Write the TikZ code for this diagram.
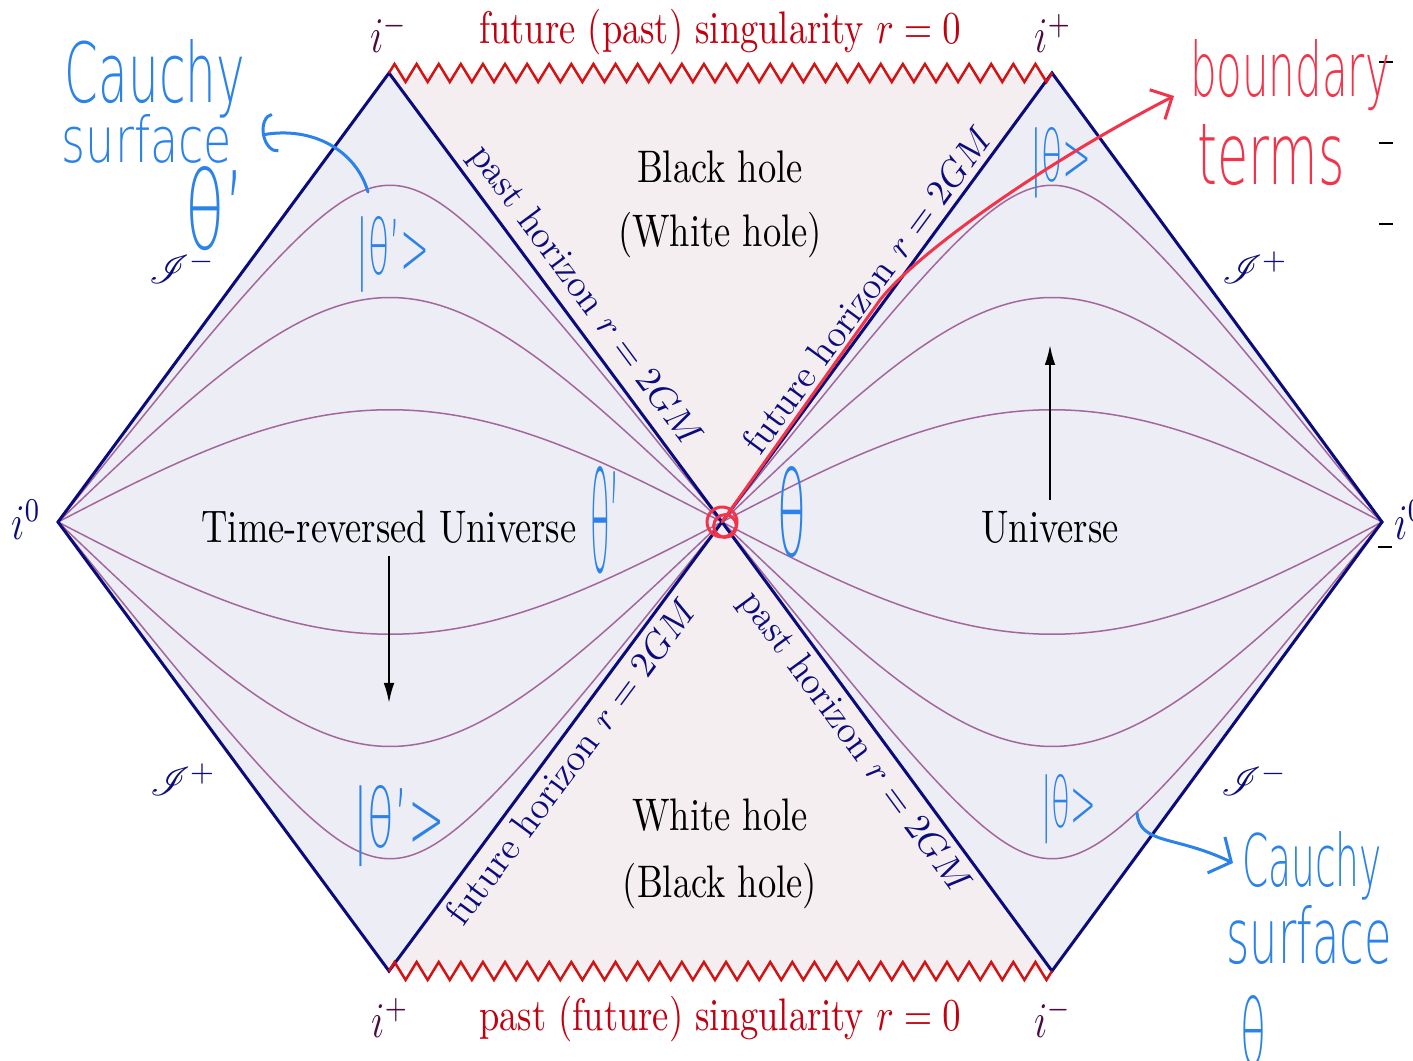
\documentclass[tikz,border=0pt]{standalone}
\usepackage{fontspec}
\usepackage{mathrsfs}
\usepackage{graphicx}
\usetikzlibrary{decorations.pathmorphing,arrows.meta}
\IfFontExistsTF{DejaVuSans-ExtraLight.ttf}{\newfontfamily\handfont{DejaVuSans-ExtraLight.ttf}}{%
  \IfFontExistsTF{FiraSans-Light.otf}{\newfontfamily\handfont{FiraSans-Light.otf}}{\newfontfamily\handfont{Fira Sans}}}
\definecolor{navy}{HTML}{0B0B7C}
\definecolor{diafill}{HTML}{EDEDF6}
\definecolor{bhfill}{HTML}{F5EEF1}
\definecolor{curvecol}{HTML}{A4679C}
\definecolor{singcol}{HTML}{D21414}
\definecolor{singtext}{HTML}{C2000F}
\definecolor{icol}{HTML}{4A0B3E}
\definecolor{handblue}{HTML}{2B82E8}
\definecolor{handred}{HTML}{F2344A}
\newdimen\pxu \pxu=0.3pt
\newcommand\tx[1]{\scalebox{1}[1.25]{#1}}
\newcommand\hw[3]{\resizebox{#1\pxu}{#2\pxu}{\handfont #3}}
\newcommand\pcurve[3]{\draw[curveline] plot[domain=0.01:179.99,samples=100,variable=\t]
 ({722+(#1)/90*atan2(#2*sin(\t),cos(\t))/2},{522-449/45*atan((#3)*sin(\t))/2});}
\begin{document}
\begin{tikzpicture}[x=0.3pt,y=-0.3pt,
  lbl/.style={font=\fontsize{10.95}{13}\selectfont},
  ilbl/.style={font=\fontsize{12}{14}\selectfont,text=icol,anchor=base},
  scri/.style={font=\fontsize{13}{15}\selectfont,text=navy,anchor=base},
  dia/.style={draw=navy,line width=0.9pt,line join=miter},
  curveline/.style={draw=curvecol,line width=0.45pt},
  sing/.style={draw=singcol,line width=0.75pt,decorate,decoration={zigzag,segment length=6.63pt,amplitude=2.7pt}},
  hor/.style={font=\fontsize{11.4}{13}\selectfont,text=navy,sloped,inner sep=2pt},
  evo/.style={draw=black,line width=0.6pt,-{Latex[length=6pt,width=3.2pt]}},
  hb/.style={text=handblue,inner sep=0pt,anchor=base},
  hr/.style={text=handred,inner sep=0pt,anchor=base},
  hbline/.style={draw=handblue,line width=0.9pt,line cap=round,line join=round},
  hrline/.style={draw=handred,line width=0.9pt,line cap=round,line join=round},
  tick/.style={draw=black,line width=0.6pt}
]
\useasboundingbox (0,0) rectangle (1413,1061);
\coordinate (L0) at (58,522);
\coordinate (A) at (389,73);
\coordinate (B) at (389,971);
\coordinate (C) at (722,522);
\coordinate (D) at (1052,73);
\coordinate (E) at (1052,971);
\coordinate (R0) at (1382,522);

% fills
\fill[bhfill] (A) -- (D) -- (C) -- cycle;
\fill[bhfill] (B) -- (E) -- (C) -- cycle;
\fill[diafill] (L0) -- (A) -- (C) -- (B) -- cycle;
\fill[diafill] (C) -- (D) -- (R0) -- (E) -- cycle;

% constant-time slices
\pcurve{660}{1.08239}{0.41421}
\pcurve{660}{1.41421}{1}
\pcurve{660}{2.61313}{2.41421}
\pcurve{660}{1.08239}{-0.41421}
\pcurve{660}{1.41421}{-1}
\pcurve{660}{2.61313}{-2.41421}
\pcurve{-664}{1.08239}{0.41421}
\pcurve{-664}{1.41421}{1}
\pcurve{-664}{2.61313}{2.41421}
\pcurve{-664}{1.08239}{-0.41421}
\pcurve{-664}{1.41421}{-1}
\pcurve{-664}{2.61313}{-2.41421}

% outlines
\draw[dia] (L0) -- (A) -- (C) -- (B) -- cycle;
\draw[dia] (C) -- (D) -- (R0) -- (E) -- cycle;
\draw[sing] (A) -- (D);
\draw[sing] (E) -- (B);

% horizon labels
\path (A) -- node[hor,above,pos=0.53]{past horizon $r=2GM$} (C);
\path (C) -- node[hor,above,pos=0.49]{future horizon $r=2GM$} (D);
\path (B) -- node[hor,below,pos=0.495]{future horizon $r=2GM$} (C);
\path (C) -- node[hor,below,pos=0.46]{past horizon $r=2GM$} (E);

% singularity labels
\node[lbl,text=singtext,anchor=base] (fs) at (720,44) {\tx{future (past) singularity $r=0$}};
\node[lbl,text=singtext,anchor=base] (ps) at (720,1030) {\tx{past (future) singularity $r=0$}};

% region labels
\node[lbl,anchor=base] (bh1) at (720,183) {\tx{Black hole}};
\node[lbl,anchor=base] (bh2) at (720,247) {\tx{(White hole)}};
\node[lbl,anchor=base] (wh1) at (720,831) {\tx{White hole}};
\node[lbl,anchor=base] (wh2) at (720,897) {\tx{(Black hole)}};
\node[lbl,anchor=base] (tru) at (389,543) {\tx{Time-reversed Universe}};
\node[lbl,anchor=base] (uni) at (1050,543) {\tx{Universe}};
\coordinate (truend) at (389,703);
\coordinate (uniend) at (1050,345);
\draw[evo] (tru.south) -- (truend);
\draw[evo] (uni.north) -- (uniend);

% infinity labels
\node[ilbl] (im1) at (389,53) {\tx{$i^-$}};
\node[ilbl] (ip1) at (1053,53) {\tx{$i^+$}};
\node[ilbl] (ip2) at (390,1037) {\tx{$i^+$}};
\node[ilbl] (im2) at (1053,1037) {\tx{$i^-$}};
\node[ilbl,text=navy] (i0l) at (26,540) {\tx{$i^0$}};
\node[ilbl,text=navy] (i0r) at (1409,540) {\tx{$i^0$}};
\node[scri] (s1) at (182,284) {$\mathscr{I}^-$};
\node[scri] (s2) at (183,796) {$\mathscr{I}^+$};
\node[scri] (s3) at (1255,284) {$\mathscr{I}^+$};
\node[scri] (s4) at (1254,796) {$\mathscr{I}^-$};

% stray ticks at the right edge
\draw[tick] (1379,62) -- (1393,62);
\draw[tick] (1379,143) -- (1393,143);
\draw[tick] (1379,224) -- (1393,224);
\draw[tick] (1378,547) -- (1392,547);

% handwritten annotations (width, height above baseline in px)
\node[hb] (cauchy1) at (155,103) {\hw{180}{63}{Cauchy}};
\node[hb] (surf1) at (147,163) {\hw{170}{48}{surface}};
\node[hb] (th1) at (215,250) {\hw{60}{83}{θ’}};
\node[hb] (ket1) at (393,275) {\hw{73}{58}{|θ’>}};
\node[hb] (ket2) at (1061,182) {\hw{62}{54}{|θ>}};
\node[hb] (ket3) at (399,847) {\hw{92}{62}{|θ’>}};
\node[hb] (ket4) at (1069,828) {\hw{55}{53}{|θ>}};
\node[hb] (th2) at (605,573) {\hw{30}{106}{θ’}};
\node[hb] (th3) at (792,557) {\hw{29}{90}{θ}};
\node[hr] (bnd) at (1290,97) {\hw{200}{57}{boundary}};
\node[hr] (trm) at (1271,185) {\hw{147}{60}{terms}};
\node[hb] (cauchy2) at (1312,887) {\hw{140}{55}{Cauchy}};
\node[hb] (surf2) at (1309,963) {\hw{165}{58}{surface}};
\node[hb] (th4) at (1253,1065) {\hw{26}{70}{θ}};

\coordinate (c1a) at (368,192);
\coordinate (c1b) at (262,135);
\draw[hbline,-{Arc Barb[length=4pt,width=12pt]}] (c1a) .. controls (356,150) and (312,126) .. (c1b);
\coordinate (c2a) at (1137,813);
\coordinate (c2b) at (1233,863);
\draw[hbline,-{Straight Barb[length=5pt,width=12pt]}] (c2a) .. controls (1140,845) and (1175,835) .. (c2b);

\coordinate (cc) at (725,526);
\draw[hrline] (C) circle[radius=4.5pt];
\draw[hrline] (cc) circle[radius=3.4pt];
\coordinate (r1) at (880,300);
\coordinate (r2) at (1174,96);
\draw[hrline,-{Straight Barb[length=5pt,width=10pt]}] (C) -- (r1) .. controls (915,255) and (1040,165) .. (r2);
\end{tikzpicture}
\end{document}
